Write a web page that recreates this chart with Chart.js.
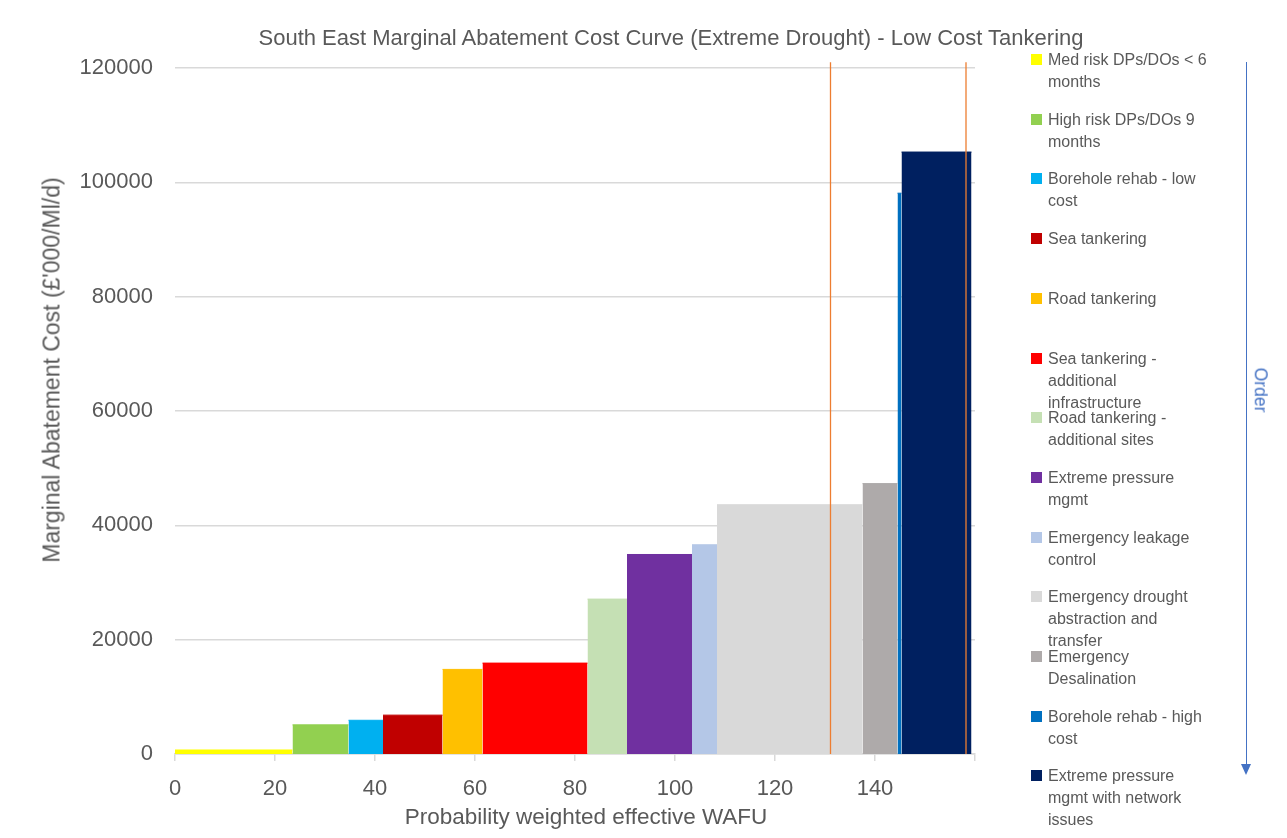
<!DOCTYPE html>
<html>
<head>
<meta charset="utf-8">
<title>South East Marginal Abatement Cost Curve</title>
<script src="https://cdn.jsdelivr.net/npm/chart.js@4.4.1/dist/chart.umd.min.js"></script>
<style>
  html, body { margin: 0; padding: 0; background: #ffffff; }
  #wrap { position: relative; width: 1287px; height: 838px; overflow: hidden; font-family: "Liberation Sans", Arial, sans-serif; }
  #macc { position: absolute; left: 0; top: 0; }
  .lbl { position: absolute; color: #595959; line-height: 1; white-space: nowrap; transform: translate(-50%, -50%); }
  #chartTitle { left: 671px; top: 38px; font-size: 22px; }
  #xTitle { left: 586px; top: 817px; font-size: 22.5px; }
  #yTitle { left: 52px; top: 370px; font-size: 23px; transform: translate(-50%, -50%) rotate(-90deg); }
  .key {
    position: absolute; left: 1031px; width: 190px;
    font-size: 16px; color: #595959;
    line-height: 22px; white-space: pre-line;
  }
  .key i { position: absolute; left: 0; top: 5px; width: 11px; height: 11px; }
  .key span { display: block; margin-left: 17px; }
  #orderLine { position: absolute; left: 1246px; top: 62px; width: 1px; height: 704px; background: #4472C4; }
  #orderHead {
    position: absolute; left: 1241px; top: 764px; width: 0; height: 0;
    border-left: 5.5px solid transparent; border-right: 5.5px solid transparent;
    border-top: 11px solid #4472C4;
  }
  #orderText {
    position: absolute; left: 1260px; top: 390px;
    font-size: 17.5px; color: #4472C4; line-height: 1;
    transform: translate(-50%, -50%) rotate(90deg); white-space: nowrap;
  }
</style>
</head>
<body>
<div id="wrap">
  <canvas id="macc" width="1287" height="838"></canvas>
  <div id="chartTitle" class="lbl">South East Marginal Abatement Cost Curve (Extreme Drought) - Low Cost Tankering</div>
  <div id="yTitle" class="lbl">Marginal Abatement Cost (£'000/Ml/d)</div>
  <div id="xTitle" class="lbl">Probability weighted effective WAFU</div>
  <div id="legend"></div>
  <div id="orderLine"></div>
  <div id="orderHead"></div>
  <div id="orderText">Order</div>
</div>
<script>
// Drought options in merit order (cheapest first)
const options = [
  'Med risk DPs/DOs < 6\nmonths',
  'High risk DPs/DOs 9\nmonths',
  'Borehole rehab - low\ncost',
  'Sea tankering',
  'Road tankering',
  'Sea tankering -\nadditional\ninfrastructure',
  'Road tankering -\nadditional sites',
  'Extreme pressure\nmgmt',
  'Emergency leakage\ncontrol',
  'Emergency drought\nabstraction and\ntransfer',
  'Emergency\nDesalination',
  'Borehole rehab - high\ncost',
  'Extreme pressure\nmgmt with network\nissues'
];
// Probability weighted effective WAFU gained by each option (Ml/d) - bar widths
const wafu = [23.5, 11.2, 6.9, 11.9, 8.0, 21.0, 7.9, 13.0, 5.0, 29.1, 7.0, 0.8, 14.0];
// Marginal abatement cost of each option (£'000/Ml/d) - bar heights
const cost = [700, 5100, 5900, 6800, 14800, 15900, 27100, 34900, 36600, 43600, 47300, 98100, 105300];
const colours = ['#FFFF00', '#92D050', '#00B0F0', '#C00000', '#FFC000', '#FF0000', '#C5E0B4',
                 '#7030A0', '#B4C7E7', '#D9D9D9', '#AEAAAA', '#0070C0', '#002060'];
// Vertical reference lines on the WAFU axis
const referenceWafu = [131.1, 158.2];
const refTop = 121000;
// Axis ranges and tick spacing
const xRange = [0, 160];
const xStep = 20;
const xLastLabel = 140;
const yRange = [0, 120000];
const yStep = 20000;

const FONT = '"Liberation Sans", Arial, sans-serif';
const GREY_TEXT = '#595959';
const GRID = '#D9D9D9';

// Cumulative start of each block along the x axis
const starts = [];
let run = 0;
wafu.forEach(w => { starts.push(run); run += w; });

const blockSets = options.map((name, i) => ({
  label: name.replace(/\n/g, ' '),
  data: [{ x: starts[i], y: cost[i] }, { x: starts[i] + wafu[i], y: cost[i] }],
  fill: 'origin',
  backgroundColor: colours[i],
  borderColor: colours[i],
  borderWidth: 1,
  pointRadius: 0,
  order: 2
}));

const refSets = referenceWafu.map(x => ({
  label: 'ref ' + x,
  data: [{ x: x, y: 0 }, { x: x, y: refTop }],
  fill: false,
  borderColor: '#ED7D31',
  borderWidth: 1.3,
  pointRadius: 0,
  clip: false,
  order: 1
}));

new Chart(document.getElementById('macc'), {
  type: 'line',
  data: { datasets: [...refSets, ...blockSets] },
  options: {
    responsive: false,
    animation: false,
    events: [],
    layout: { padding: { left: 0, right: 312, top: 68, bottom: 0 } },
    plugins: {
      legend: { display: false },
      tooltip: { enabled: false },
      title: { display: false }
    },
    scales: {
      x: {
        type: 'linear',
        min: xRange[0], max: xRange[1],
        ticks: {
          stepSize: xStep,
          color: GREY_TEXT,
          font: { family: FONT, size: 22 },
          padding: 15,
          maxRotation: 0,
          callback: v => (v <= xLastLabel ? String(v) : '')
        },
        grid: { drawOnChartArea: false, drawTicks: true, tickLength: 7, color: GRID, lineWidth: 1.5 },
        border: { display: true, color: GRID, width: 1.5 },
        afterFit: s => { s.height = 84; }
      },
      y: {
        type: 'linear',
        min: yRange[0], max: yRange[1],
        ticks: {
          stepSize: yStep,
          color: GREY_TEXT,
          font: { family: FONT, size: 22 },
          padding: 22,
          callback: v => String(v)
        },
        grid: { drawTicks: false, color: GRID, lineWidth: 1.5 },
        border: { display: false },
        afterFit: s => { s.width = 175; }
      }
    }
  }
});

// Legend keyed to the blocks, in merit order
const legend = document.getElementById('legend');
options.forEach((name, i) => {
  const row = document.createElement('div');
  row.className = 'key';
  row.style.top = (49 + i * 59.7) + 'px';
  const box = document.createElement('i');
  box.style.background = colours[i];
  const txt = document.createElement('span');
  txt.textContent = name;
  row.appendChild(box);
  row.appendChild(txt);
  legend.appendChild(row);
});
</script>
</body>
</html>
